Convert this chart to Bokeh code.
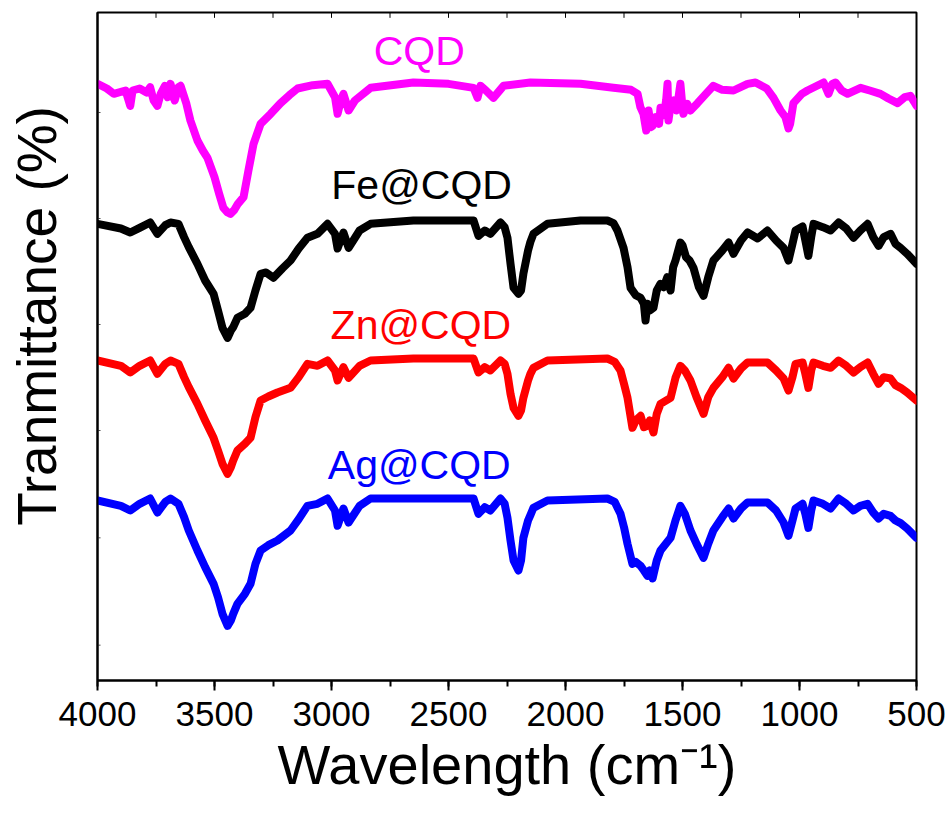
from bokeh.plotting import figure
from bokeh.models import Range1d, LinearAxis, SingleIntervalTicker, FixedTicker
from bokeh.core.properties import value
from bokeh.embed import file_html
from bokeh.resources import INLINE

# FTIR spectra, stacked transmittance (a.u.) vs wavenumber (cm-1)
cqd_wn = [4000, 3960, 3930, 3880, 3860, 3850, 3820, 3790, 3775, 3760, 3744, 3730,
          3712, 3700, 3688, 3670, 3654, 3645, 3620, 3603, 3573, 3550, 3530, 3500,
          3480, 3462, 3444, 3432, 3415, 3400, 3376, 3355, 3333, 3303, 3260, 3218,
          3180, 3145, 3080, 3017, 2985, 2974, 2960, 2949, 2927, 2900, 2833, 2650,
          2500, 2393, 2376, 2363, 2340, 2308, 2265, 2150, 1936, 1795, 1720, 1692,
          1680, 1667, 1655, 1645, 1635, 1628, 1615, 1600, 1594, 1580, 1570, 1564,
          1560, 1550, 1538, 1525, 1509, 1500, 1496, 1480, 1466, 1436, 1400, 1368,
          1330, 1282, 1222, 1188, 1140, 1111, 1081, 1060, 1047, 1040, 1026, 990,
          966, 897, 876, 860, 846, 820, 795, 739, 700, 654, 620, 581, 550, 526,
          510, 500]
cqd_t = [89.5, 88.8, 88.0, 88.5, 86.2, 88.5, 88.8, 88.2, 89.0, 87.0, 86.2, 88.0,
         89.2, 87.5, 89.5, 87.0, 89.0, 89.2, 86.5, 84.0, 81.0, 79.5, 78.4, 75.5,
         73.0, 70.9, 70.2, 70.0, 70.6, 71.5, 72.5, 76.5, 80.5, 83.5, 85.0, 86.6,
         87.8, 88.8, 89.3, 89.5, 87.5, 85.0, 87.0, 88.0, 85.5, 87.0, 88.9, 89.7,
         89.5, 88.9, 87.4, 89.2, 88.5, 87.4, 89.2, 89.7, 89.5, 88.9, 88.6, 88.0,
         86.0, 85.0, 82.5, 85.5, 83.0, 83.2, 84.5, 83.5, 85.9, 84.8, 87.0, 89.5,
         84.0, 86.5, 87.0, 85.5, 89.5, 86.0, 85.0, 86.5, 85.5, 86.6, 88.0, 89.2,
         88.6, 88.5, 89.5, 89.7, 88.8, 87.4, 85.5, 84.5, 82.8, 83.5, 86.6, 88.0,
         88.5, 89.7, 88.0, 89.5, 89.7, 88.5, 88.0, 88.9, 88.5, 88.0, 87.3, 86.6,
         87.5, 87.7, 86.8, 86.2]

fe_wn = [4000, 3900, 3860, 3820, 3775, 3744, 3710, 3688, 3654, 3630, 3610, 3573,
         3540, 3504, 3485, 3466, 3444, 3430, 3420, 3402, 3370, 3346, 3325, 3303,
         3280, 3248, 3210, 3175, 3140, 3103, 3060, 3017, 2985, 2974, 2949, 2927,
         2880, 2833, 2650, 2393, 2372, 2345, 2321, 2278, 2260, 2248, 2235, 2222,
         2201, 2190, 2180, 2160, 2150, 2137, 2077, 1936, 1821, 1795, 1778, 1752,
         1735, 1722, 1700, 1679, 1665, 1658, 1650, 1640, 1624, 1610, 1594, 1580,
         1565, 1551, 1540, 1530, 1509, 1500, 1485, 1470, 1453, 1430, 1410, 1390,
         1368, 1330, 1303, 1282, 1250, 1222, 1179, 1137, 1100, 1068, 1047, 1030,
         1017, 987, 975, 962, 950, 940, 900, 867, 833, 800, 769, 740, 709, 685,
         662, 640, 611, 590, 568, 540, 513, 500]
fe_t = [68.5, 67.8, 67.2, 67.9, 68.7, 67.0, 68.3, 68.7, 68.5, 66.5, 65.0, 62.5,
        60.0, 58.0, 55.5, 52.9, 51.4, 52.5, 53.0, 54.4, 55.0, 55.9, 58.5, 61.0,
        61.2, 60.4, 61.8, 63.0, 64.8, 66.4, 67.0, 68.5, 67.0, 64.8, 67.2, 64.9,
        67.5, 68.5, 69.0, 69.0, 66.7, 67.5, 67.0, 68.7, 68.0, 66.4, 62.5, 58.9,
        58.0, 58.5, 61.0, 64.5, 65.8, 67.0, 68.5, 69.0, 69.0, 68.6, 67.5, 64.9,
        62.0, 58.9, 57.8, 57.4, 56.5, 54.0, 56.5, 55.5, 55.9, 58.5, 59.5, 59.0,
        60.5, 58.5, 62.0, 63.0, 65.7, 65.3, 63.5, 63.0, 61.9, 59.0, 57.7, 60.5,
        63.0, 64.5, 65.7, 64.0, 66.0, 67.2, 66.3, 67.5, 66.0, 64.9, 63.0, 65.5,
        67.5, 68.1, 66.0, 63.7, 66.5, 68.5, 68.0, 67.5, 68.7, 67.8, 66.4, 67.5,
        68.5, 66.5, 65.2, 66.5, 67.0, 65.5, 64.9, 64.0, 63.0, 62.5]

zn_wn = [4000, 3900, 3860, 3820, 3775, 3744, 3710, 3688, 3654, 3630, 3610, 3573,
         3540, 3504, 3485, 3466, 3444, 3430, 3420, 3402, 3370, 3346, 3325, 3303,
         3270, 3231, 3175, 3140, 3103, 3060, 3017, 2985, 2974, 2949, 2927, 2880,
         2833, 2650, 2393, 2372, 2345, 2321, 2278, 2260, 2248, 2235, 2222, 2201,
         2190, 2180, 2160, 2150, 2137, 2077, 1821, 1790, 1765, 1750, 1735, 1714,
         1700, 1679, 1665, 1650, 1640, 1624, 1610, 1594, 1551, 1530, 1509, 1490,
         1466, 1440, 1410, 1390, 1368, 1330, 1303, 1282, 1250, 1222, 1137, 1100,
         1068, 1047, 1030, 1017, 987, 975, 962, 950, 940, 900, 867, 833, 800,
         769, 740, 709, 685, 662, 640, 611, 590, 568, 540, 500]
zn_t = [48.0, 47.2, 46.2, 47.2, 48.0, 46.0, 47.5, 48.0, 47.5, 45.5, 44.0, 41.5,
        39.0, 36.4, 34.5, 32.5, 31.0, 32.0, 33.0, 34.5, 35.5, 36.4, 39.5, 42.0,
        42.6, 43.2, 43.9, 45.5, 47.5, 47.2, 48.0, 46.5, 45.0, 47.0, 45.4, 47.2,
        48.0, 48.3, 48.3, 46.2, 47.0, 46.5, 48.0, 47.5, 46.0, 43.0, 40.9, 39.7,
        40.5, 42.4, 45.0, 46.0, 46.9, 48.0, 48.3, 47.8, 46.5, 44.5, 42.4, 37.9,
        39.0, 39.7, 38.0, 38.2, 39.0, 37.2, 40.0, 41.5, 42.4, 45.4, 47.2, 46.5,
        45.0, 42.5, 40.0, 42.5, 43.9, 45.5, 46.9, 45.3, 46.8, 47.7, 47.7, 46.5,
        45.3, 43.5, 45.5, 47.5, 47.7, 46.0, 43.9, 46.5, 47.7, 47.2, 46.9, 48.0,
        47.2, 46.2, 47.0, 47.7, 46.0, 44.5, 45.5, 45.3, 44.3, 43.9, 43.2, 42.0]

ag_wn = [4000, 3900, 3860, 3820, 3775, 3744, 3710, 3688, 3654, 3630, 3610, 3573,
         3540, 3504, 3485, 3466, 3444, 3430, 3420, 3402, 3370, 3346, 3325, 3303,
         3270, 3231, 3175, 3140, 3103, 3060, 3017, 2985, 2974, 2949, 2927, 2880,
         2833, 2650, 2393, 2372, 2345, 2321, 2278, 2260, 2248, 2235, 2222, 2201,
         2190, 2180, 2160, 2150, 2137, 2077, 1821, 1790, 1765, 1750, 1735, 1714,
         1700, 1679, 1665, 1650, 1640, 1628, 1610, 1594, 1551, 1530, 1509, 1490,
         1466, 1440, 1410, 1390, 1368, 1330, 1303, 1282, 1250, 1222, 1137, 1100,
         1068, 1047, 1030, 1017, 987, 975, 962, 950, 940, 900, 867, 833, 800,
         769, 740, 709, 685, 662, 640, 611, 590, 568, 540, 500]
ag_t = [27.0, 26.2, 25.5, 26.5, 27.3, 25.2, 26.8, 27.3, 26.5, 24.5, 22.5, 19.5,
        17.0, 14.5, 12.5, 10.0, 8.2, 9.0, 10.0, 11.5, 13.0, 14.5, 17.5, 19.5,
        20.3, 21.0, 22.5, 24.2, 26.2, 26.5, 27.3, 25.5, 23.2, 25.8, 23.7, 26.2,
        27.3, 27.3, 27.3, 25.0, 26.0, 25.5, 27.3, 26.5, 24.4, 21.0, 18.0, 16.5,
        18.0, 21.4, 24.0, 24.8, 25.9, 27.0, 27.3, 26.8, 25.0, 23.0, 20.5, 17.5,
        17.8, 17.2, 16.5, 15.7, 16.5, 15.3, 18.0, 19.5, 21.4, 24.0, 26.2, 25.0,
        22.5, 20.5, 18.4, 20.5, 22.5, 24.5, 25.8, 24.3, 25.8, 26.7, 26.7, 25.5,
        23.7, 21.7, 24.0, 25.8, 26.5, 25.0, 22.9, 25.5, 27.0, 26.5, 25.8, 27.3,
        26.5, 25.5, 26.2, 26.5, 25.2, 24.3, 25.0, 24.7, 24.0, 23.6, 22.8, 21.4]

names = ["CQD", "Fe@CQD", "Zn@CQD", "Ag@CQD"]
colors = ["#FF00FF", "#000000", "#FF0000", "#0000FF"]
series = [(cqd_wn, cqd_t), (fe_wn, fe_t), (zn_wn, zn_t), (ag_wn, ag_t)]

FONT = "Liberation Sans"
X_START, X_END = 4000, 500
Y_LO, Y_HI = 0, 100.2

p = figure(width=952, height=814, output_backend="svg", toolbar_location=None,
           x_range=Range1d(X_START, X_END), y_range=Range1d(Y_LO, Y_HI),
           x_axis_location=None, y_axis_location=None,
           min_border_left=97, min_border_right=36, min_border_top=12,
           min_border_bottom=134)
p.grid.visible = False
p.outline_line_color = "black"
p.outline_line_width = 2
p.background_fill_color = "white"
p.border_fill_color = "white"

# curves
for (wn, t), c in zip(series, colors):
    p.line(wn, t, line_color=c, line_width=8, line_join="round", line_cap="round")

# series names above each curve
label_x = [2625, 2615, 2618, 2625]
label_y = [94.5, 74.3, 53.3, 32.4]
for nm, c, lx, ly in zip(names, colors, label_x, label_y):
    p.text(x=[lx], y=[ly], text=[nm], text_color=c, text_align="center",
           text_baseline="alphabetic", text_font=value(FONT),
           text_font_size="41px")

# bottom axis
xb = LinearAxis(ticker=SingleIntervalTicker(interval=500, num_minor_ticks=2),
                axis_label="Wavelength (cm⁻¹)")
xb.axis_line_width = 2
xb.major_tick_out = 10
xb.major_tick_in = 0
xb.minor_tick_out = 6
xb.minor_tick_in = 0
xb.major_tick_line_width = 2
xb.minor_tick_line_width = 2
xb.major_label_text_font = FONT
xb.major_label_text_font_size = "35px"
xb.major_label_text_color = "black"
xb.major_label_standoff = 11
xb.axis_label_text_font = FONT
xb.axis_label_text_font_size = "56px"
xb.axis_label_text_font_style = "normal"
xb.axis_label_text_color = "black"
xb.axis_label_standoff = 4
p.add_layout(xb, "below")

# short inward ticks along the top edge (every 250 cm-1)
top_ticks = list(range(500, 4001, 250))
p.segment(x0=top_ticks, y0=[Y_HI] * len(top_ticks), x1=top_ticks,
          y1=[Y_HI - 0.8] * len(top_ticks), line_color="black", line_width=1)

# faint inward ticks along the left edge
left_ticks = [5.3, 21.4, 37.5, 53.4, 69.3, 85.2]
p.segment(x0=[X_START] * len(left_ticks), y0=left_ticks,
          x1=[X_START - 13] * len(left_ticks), y1=left_ticks,
          line_color="#555555", line_width=1)

# left axis: title only; leading no-break spaces lift the title
yl = LinearAxis(ticker=FixedTicker(ticks=[]),
                axis_label="\u00a0\u00a0\u00a0\u00a0Tranmittance (%)")
yl.axis_line_width = 2
yl.major_tick_line_color = None
yl.minor_tick_line_color = None
yl.major_label_standoff = 0
yl.axis_label_text_font = FONT
yl.axis_label_text_font_size = "55px"
yl.axis_label_text_font_style = "normal"
yl.axis_label_text_color = "black"
yl.axis_label_standoff = 30
p.add_layout(yl, "left")

open("out.html", "w").write(file_html(p, INLINE))
